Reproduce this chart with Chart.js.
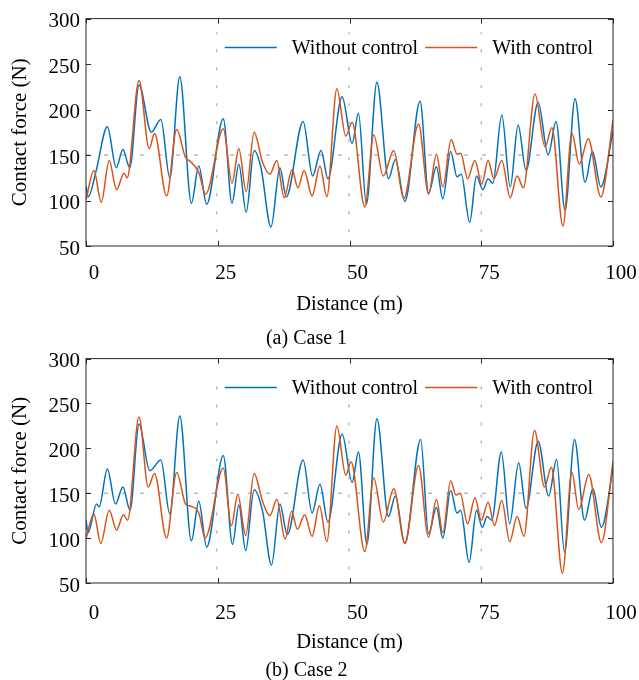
<!DOCTYPE html>
<html>
<head>
<meta charset="utf-8">
<script src="https://cdn.jsdelivr.net/npm/chart.js@4.4.1/dist/chart.umd.min.js"></script>
<style>
  html, body { margin: 0; padding: 0; background: #fff; }
  #wrap { position: relative; width: 639px; height: 680px; }
  .box { position: absolute; left: 0; width: 639px; }
  #box1 { top: 0; height: 348px; }
  #box2 { top: 340px; height: 340px; }
</style>
</head>
<body>
<div id="wrap">
  <div class="box" id="box1"><canvas id="case1"></canvas></div>
  <div class="box" id="box2"><canvas id="case2"></canvas></div>
</div>
<script>
// case 1 - without control
const dist1Without = [0, 0.4, 1.9, 4.05, 5.75, 7.0, 8.3, 10.06, 12.4, 14.2, 15.9, 17.8, 20.0, 21.4, 22.9, 26.05, 27.7, 29.0, 30.4, 31.9, 33.2, 35.1, 36.8, 38.0, 41.2, 43.0, 44.6, 45.9, 48.6, 50.5, 51.7, 53.2, 55.2, 57.4, 58.7, 60.5, 63.4, 65.0, 66.5, 67.7, 69.2, 70.4, 71.2, 72.8, 74.1, 75.3, 76.3, 77.2, 78.9, 80.5, 82.0, 83.5, 85.8, 87.7, 89.2, 90.9, 92.8, 94.7, 96.1, 97.7, 100];
const force1Without = [116, 104, 132, 181, 136, 156, 136, 227, 175, 189, 125, 236, 97, 138, 96, 190, 97, 140, 87, 155, 136, 71, 136, 104, 187, 127, 155, 124, 214, 163, 196, 96, 230, 124, 145, 99, 209, 108, 137, 102, 154, 126, 129, 76, 127, 112, 124, 119, 194, 115, 183, 133, 208, 150, 187, 89, 212, 120, 154, 115, 176];
// case 1 - with control
const dist1With = [0, 1.5, 2.9, 4.4, 5.8, 7.2, 7.8, 10.06, 12.0, 13.0, 15.3, 17.2, 18.9, 19.8, 21.4, 22.7, 26.05, 27.7, 29.0, 30.4, 31.9, 33.5, 34.9, 36.2, 37.6, 39.1, 40.2, 41.4, 42.9, 44.4, 45.7, 47.6, 49.3, 50.5, 52.9, 54.6, 56.4, 58.4, 60.3, 63.1, 65.0, 66.5, 67.7, 69.3, 70.4, 71.1, 72.4, 73.8, 75.1, 76.3, 77.4, 78.9, 80.5, 81.8, 83.0, 85.2, 87.1, 88.4, 90.5, 92.2, 93.6, 95.3, 97.7, 100];
const force1With = [101, 133, 98, 144, 112, 130, 125, 232, 157, 174, 105, 178, 147, 143, 131, 107, 179, 119, 157, 110, 175, 142, 129, 144, 103, 134, 114, 133, 105, 138, 104, 223, 171, 186, 93, 172, 127, 155, 102, 184, 107, 151, 115, 167, 151, 152, 124, 144, 118, 144, 124, 144, 103, 127, 114, 217, 159, 180, 72, 174, 140, 168, 104, 188];

// case 2 - without control
const dist2Without = [0, 0.4, 2.0, 2.5, 4.05, 5.6, 7.0, 8.35, 10.06, 12.1, 14.2, 15.9, 17.8, 20.0, 21.4, 22.9, 26.05, 27.8, 29.0, 30.3, 31.9, 33.5, 35.2, 36.8, 38.2, 41.2, 42.9, 44.4, 45.9, 48.6, 50.5, 51.7, 53.3, 55.2, 57.4, 58.7, 60.5, 63.5, 65.0, 66.5, 67.7, 69.2, 70.4, 71.1, 72.7, 74.1, 75.2, 76.1, 77.0, 78.8, 80.4, 82.1, 83.5, 85.8, 87.8, 89.3, 90.8, 92.7, 94.6, 96.2, 97.8, 100];
const force2Without = [120, 106, 138, 135, 177, 138, 157, 131, 227, 175, 187, 127, 236, 97, 141, 90, 192, 93, 137, 86, 154, 130, 70, 138, 104, 187, 128, 160, 118, 216, 162, 196, 93, 233, 124, 147, 94, 210, 105, 134, 100, 153, 128, 131, 73, 131, 112, 124, 120, 196, 116, 184, 133, 208, 147, 188, 84, 210, 120, 155, 112, 177];
// case 2 - with control
const dist2With = [0, 1.5, 2.8, 4.4, 5.8, 7.1, 7.9, 10.06, 11.8, 13.0, 15.3, 17.2, 18.9, 19.6, 21.4, 22.6, 26.05, 27.6, 28.8, 30.3, 31.9, 33.5, 34.9, 36.2, 37.8, 39.0, 40.1, 41.5, 42.9, 44.3, 45.7, 47.6, 49.3, 50.3, 52.9, 54.6, 56.4, 58.4, 60.5, 63.1, 65.0, 66.5, 67.7, 69.2, 70.2, 71.0, 72.4, 73.8, 75.0, 76.3, 77.5, 78.9, 80.4, 81.8, 83.1, 85.1, 87.0, 88.3, 90.4, 92.2, 93.5, 95.4, 97.8, 100];
const force2With = [100, 127, 94, 131, 109, 126, 120, 235, 157, 172, 100, 173, 138, 136, 128, 100, 178, 114, 149, 103, 172, 141, 125, 143, 99, 130, 110, 126, 102, 136, 96, 225, 170, 185, 85, 167, 118, 155, 94, 181, 101, 143, 106, 164, 148, 150, 116, 145, 120, 140, 114, 142, 96, 124, 102, 220, 157, 179, 61, 173, 132, 171, 95, 185];

// grey reference lines
const guideDist = [24.8, 49.9, 75.0];
const guideSpan = [65, 285];
const refForce = 150;

const xTicks = [0, 25, 50, 75, 100];
const yTicks = [50, 100, 150, 200, 250, 300];

const FONT = '"Liberation Serif", "Times New Roman", serif';
const BLUE = '#0072BD';
const ORANGE = '#D95319';
const GREY = '#b9b9b9';

const toPoints = (xs, ys) => xs.map((x, i) => ({ x: x, y: ys[i] }));

// box + inward tick marks, MATLAB style
const frameTicks = {
  id: 'frameTicks',
  afterDatasetsDraw(chart) {
    const { ctx, chartArea: a, scales: { x, y } } = chart;
    ctx.save();
    ctx.strokeStyle = '#262626';
    ctx.lineWidth = 1;
    ctx.strokeRect(a.left, a.top, a.right - a.left, a.bottom - a.top);
    ctx.beginPath();
    x.ticks.forEach(t => {
      const px = Math.round(x.getPixelForValue(t.value)) + 0.5;
      ctx.moveTo(px, a.bottom); ctx.lineTo(px, a.bottom - 5);
      ctx.moveTo(px, a.top); ctx.lineTo(px, a.top + 5);
    });
    y.ticks.forEach(t => {
      const py = Math.round(y.getPixelForValue(t.value)) + 0.5;
      ctx.moveTo(a.left, py); ctx.lineTo(a.left + 5, py);
      ctx.moveTo(a.right, py); ctx.lineTo(a.right - 5, py);
    });
    ctx.stroke();
    ctx.restore();
  }
};

// horizontal legend inside the plot area, no box
const insideLegend = {
  id: 'insideLegend',
  afterDatasetsDraw(chart) {
    const { ctx, chartArea: a } = chart;
    const items = chart.data.datasets.filter(d => d.inLegend);
    const lineLen = 52, gap = 15, sep = 7;
    ctx.save();
    ctx.font = '20px ' + FONT;
    ctx.textBaseline = 'middle';
    let total = 0;
    items.forEach((d, i) => { total += lineLen + gap + ctx.measureText(d.label).width + (i ? sep : 0); });
    let x = a.right - 20 - total;
    const y = a.top + 29;
    items.forEach(d => {
      ctx.strokeStyle = d.borderColor;
      ctx.lineWidth = d.borderWidth;
      ctx.beginPath(); ctx.moveTo(x, y); ctx.lineTo(x + lineLen, y); ctx.stroke();
      x += lineLen + gap;
      ctx.fillStyle = '#000';
      ctx.fillText(d.label, x, y + 1);
      x += ctx.measureText(d.label).width + sep;
    });
    ctx.restore();
  }
};

function makeChart(id, caption, dWo, fWo, dW, fW, lay) {
  const guides = guideDist.map(g => ({
    data: [{ x: g, y: guideSpan[0] }, { x: g, y: guideSpan[1] }],
    borderColor: GREY, borderWidth: 1.5, borderDash: [3, 15], pointRadius: 0, order: 2
  }));
  guides.push({
    data: [{ x: 0, y: refForce }, { x: 100, y: refForce }],
    borderColor: GREY, borderWidth: 1.5, borderDash: [4, 14], pointRadius: 0, order: 2
  });

  return new Chart(document.getElementById(id), {
    type: 'line',
    data: {
      datasets: [
        { label: 'Without control', inLegend: true, data: toPoints(dWo, fWo), borderColor: BLUE,
          borderWidth: 1.5, pointRadius: 0, cubicInterpolationMode: 'monotone', order: 1 },
        { label: 'With control', inLegend: true, data: toPoints(dW, fW), borderColor: ORANGE,
          borderWidth: 1.5, pointRadius: 0, cubicInterpolationMode: 'monotone', order: 0 }
      ].concat(guides)
    },
    options: {
      responsive: true,
      maintainAspectRatio: false,
      animation: false,
      layout: { padding: { top: lay.top, right: 26, bottom: 0, left: 0 } },
      plugins: {
        legend: { display: false },
        tooltip: { enabled: false },
        title: {
          display: true, position: 'bottom', text: caption, color: '#000',
          font: { family: FONT, size: 20, weight: 'normal' }, padding: { top: 0, bottom: -3 }
        }
      },
      scales: {
        x: {
          type: 'linear', min: 0, max: 100,
          afterBuildTicks: s => { s.ticks = xTicks.map(v => ({ value: v })); },
          ticks: { font: { family: FONT, size: 21 }, color: '#000', padding: 2, labelOffset: 8, maxRotation: 0 },
          // grid hidden; tickLength only spaces the labels away from the box
          grid: { display: false, drawTicks: true, tickLength: lay.tickPad - 2 },
          border: { display: false },
          title: { display: true, text: 'Distance (m)', color: '#000', font: { family: FONT, size: 20.5 },
            padding: { top: 0, bottom: lay.xTitleBottom } },
          afterFit: s => { s.height = lay.xHeight; }
        },
        y: {
          min: 50, max: 300,
          afterBuildTicks: s => { s.ticks = yTicks.map(v => ({ value: v })); },
          ticks: { font: { family: FONT, size: 21 }, color: '#000', padding: 6, labelOffset: 3 },
          grid: { display: false, drawTicks: false },
          border: { display: false },
          title: { display: true, text: 'Contact force (N)', color: '#000', font: { family: FONT, size: 21 },
            padding: { top: 8, bottom: 0 } },
          afterFit: s => { s.width = 86; }
        }
      }
    },
    plugins: [frameTicks, insideLegend]
  });
}

makeChart('case1', '(a) Case 1', dist1Without, force1Without, dist1With, force1With,
  { top: 16, xHeight: 81, tickPad: 15, xTitleBottom: 10 });
makeChart('case2', '(b) Case 2', dist2Without, force2Without, dist2With, force2With,
  { top: 14, xHeight: 76, tickPad: 18, xTitleBottom: 4 });
</script>
</body>
</html>
